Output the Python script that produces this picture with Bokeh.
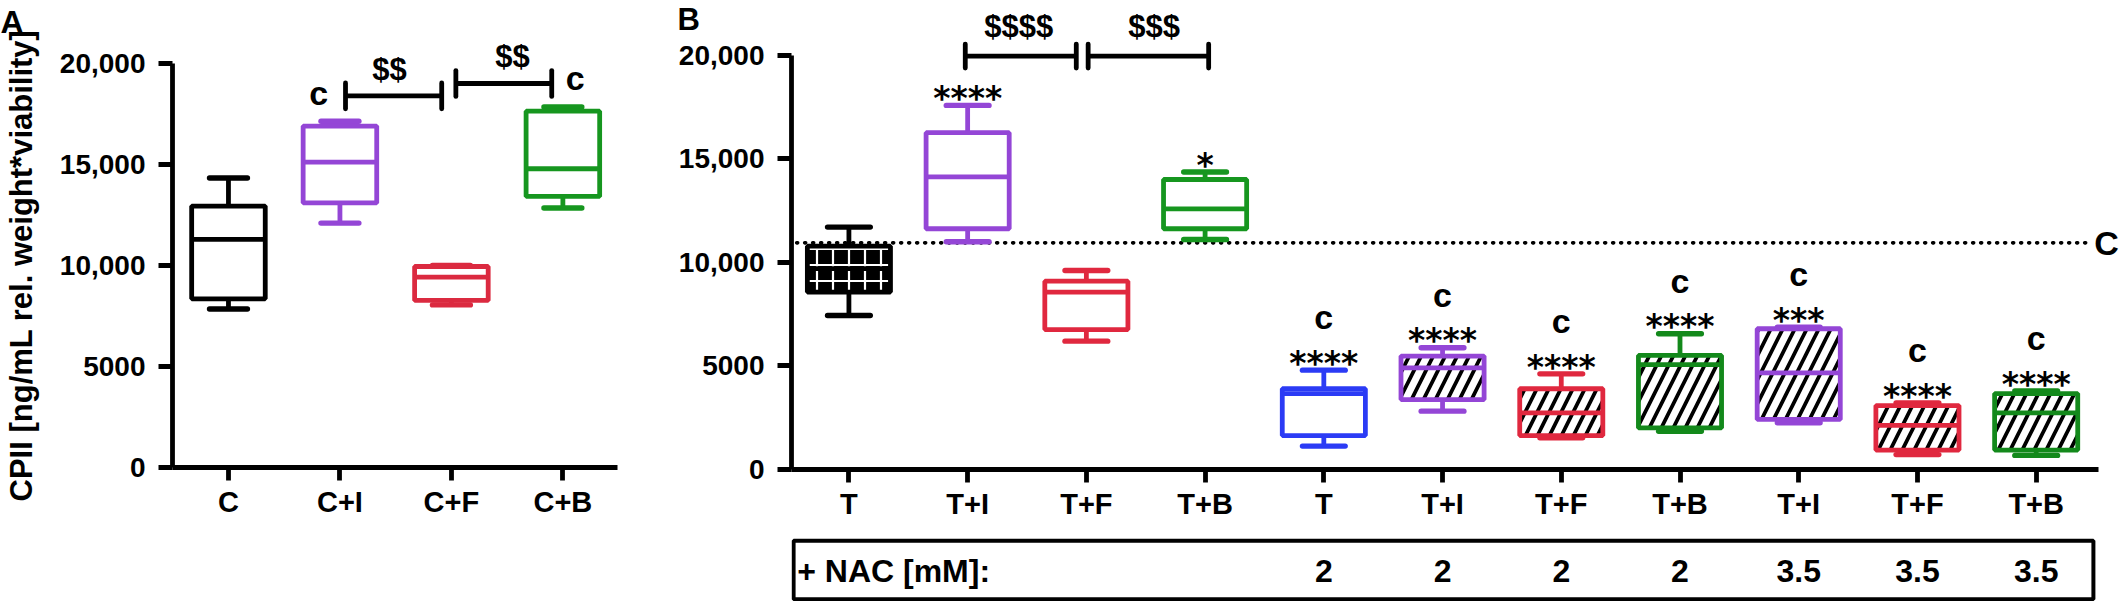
from bokeh.plotting import figure
from bokeh.models import ColumnDataSource, Range1d, FixedTicker, Label
from bokeh.layouts import row, column
from bokeh.core.properties import value
from bokeh.embed import file_html
from bokeh.resources import INLINE

# ---------------- data ----------------
a_groups = ["C", "C+I", "C+F", "C+B"]
a_low = [7850, 12100, 8050, 12850]
a_q1 = [8350, 13100, 8270, 13420]
a_median = [11290, 15120, 9420, 14790]
a_q3 = [12940, 16900, 9950, 17640]
a_high = [14330, 17140, 10000, 17850]
a_colors = ["#000000", "#9446D6", "#DB2A40", "#16961F"]

b_groups = ["T", "T+I", "T+F", "T+B", "T", "T+I", "T+F", "T+B", "T+I", "T+F", "T+B"]
b_low = [7440, 11000, 6200, 11110, 1130, 2820, 1530, 1850, 2260, 720, 680]
b_q1 = [8570, 11630, 6760, 11630, 1640, 3380, 1640, 2010, 2420, 940, 940]
b_median = [9700, 14140, 8570, 12590, 3670, 4910, 2740, 5070, 4670, 2130, 2740]
b_q3 = [10790, 16270, 9100, 14010, 3900, 5480, 3900, 5510, 6800, 3090, 3670]
b_high = [11710, 17590, 9610, 14370, 4800, 5880, 4620, 6560, 6880, 3220, 3790]
b_colors = ["#000000", "#9446D6", "#E0283F", "#16961F", "#2B3BF5", "#9446D6",
            "#E0283F", "#13891B", "#9446D6", "#E0283F", "#13891B"]
b_style = ["brick", "plain", "plain", "plain", "plain", "hatch", "hatch", "hatch",
           "hatch", "hatch", "hatch"]
b_stars = ["", "****", "", "*", "****", "****", "****", "****", "***", "****", "****"]
b_letter = ["", "", "", "", "c", "c", "c", "c", "c", "c", "c"]
nac_mM = ["", "", "", "", "2", "2", "2", "2", "3.5", "3.5", "3.5"]
control_mean = 10950

a_brackets = [(1, 2, "$$"), (2, 3, "$$")]
b_brackets = [(1, 2, "$$$$"), (2, 3, "$$$")]
a_letters = ["", "c", "", "c"]

FONT = value("Liberation Sans")
LW = 4.8


def style_axes(p, labels, yfont="28px", xfont="29px"):
    p.grid.visible = False
    p.outline_line_color = None
    p.background_fill_color = "white"
    for ax in (p.xaxis[0], p.yaxis[0]):
        ax.axis_line_width = LW
        ax.axis_line_color = "black"
        ax.major_tick_line_width = LW
        ax.major_tick_line_color = "black"
        ax.major_tick_in = 0
        ax.minor_tick_out = 0
        ax.minor_tick_in = 0
        ax.major_label_text_font = "Liberation Sans"
        ax.major_label_text_font_style = "bold"
        ax.major_label_text_color = "black"
    ya = p.yaxis[0]
    ya.ticker = FixedTicker(ticks=[0, 5000, 10000, 15000, 20000])
    ya.major_label_overrides = {0: "0", 5000: "5000", 10000: "10,000",
                                15000: "15,000", 20000: "20,000"}
    ya.major_tick_out = 14
    ya.major_label_standoff = 13
    ya.major_label_text_font_size = yfont
    ya.bounds = (0, 20000)
    xa = p.xaxis[0]
    xa.ticker = FixedTicker(ticks=list(range(len(labels))))
    xa.major_label_overrides = {i: s for i, s in enumerate(labels)}
    xa.major_tick_out = 13
    xa.major_label_standoff = 5
    xa.major_label_text_font_size = xfont


def draw_boxes(p, n, low, q1, med, q3, high, colors, styles, bw, cw):
    xs = list(range(n))
    fill, hatch, hcol, hscale, hweight = [], [], [], [], []
    for s in styles:
        if s == "brick":
            fill.append("black"); hatch.append("+"); hcol.append("white")
            hscale.append(16); hweight.append(2.2)
        elif s == "hatch":
            fill.append("white"); hatch.append("/"); hcol.append("black")
            hscale.append(24); hweight.append(3.8)
        else:
            fill.append("white"); hatch.append(" "); hcol.append("black")
            hscale.append(12); hweight.append(1)
    src = ColumnDataSource(dict(
        x=xs, low=low, q1=q1, med=med, q3=q3, high=high, color=colors,
        left=[x - bw / 2 for x in xs], right=[x + bw / 2 for x in xs],
        cl=[x - cw / 2 for x in xs], cr=[x + cw / 2 for x in xs],
        fill=fill, hatch=hatch, hcol=hcol, hscale=hscale, hweight=hweight))
    p.segment(x0="x", y0="low", x1="x", y1="q1", source=src, line_color="color", line_width=LW)
    p.segment(x0="x", y0="q3", x1="x", y1="high", source=src, line_color="color", line_width=LW)
    p.segment(x0="cl", y0="low", x1="cr", y1="low", source=src, line_color="color",
              line_width=LW + 0.6, line_cap="round")
    p.segment(x0="cl", y0="high", x1="cr", y1="high", source=src, line_color="color",
              line_width=LW + 0.6, line_cap="round")
    p.quad(left="left", right="right", bottom="q1", top="q3", source=src,
           fill_color="fill", line_color="color", line_width=LW,
           hatch_pattern="hatch", hatch_color="hcol", hatch_scale="hscale",
           hatch_weight="hweight")
    p.segment(x0="left", y0="med", x1="right", y1="med", source=src,
              line_color="color", line_width=LW)


def bracket_lines(p, x0, x1, y, cap):
    p.segment(x0=[x0], y0=[y], x1=[x1], y1=[y], line_color="black", line_width=LW)
    p.segment(x0=[x0, x1], y0=[y - cap, y - cap], x1=[x0, x1], y1=[y + cap, y + cap],
              line_color="black", line_width=LW, line_cap="round")


def canvas_label(p, text, cx, cy, size, side, align="left", baseline="alphabetic"):
    lab = Label(x=cx, y=cy, x_units="canvas", y_units="canvas", text=text,
                text_font="Liberation Sans", text_font_style="bold",
                text_font_size=size, text_align=align, text_baseline=baseline,
                text_color="black")
    p.add_layout(lab, side)


# ---------------- panel A ----------------
pA = figure(width=632, height=601, x_range=Range1d(-0.502, 3.49),
            y_range=Range1d(0, 20000), output_backend="svg", toolbar_location=None,
            min_border_left=166, min_border_right=15, min_border_top=63,
            min_border_bottom=134)
style_axes(pA, a_groups)
ya = pA.yaxis[0]
ya.axis_label = "CPII [ng/mL rel. weight*viability]"
ya.axis_label_text_font = "Liberation Sans"
ya.axis_label_text_font_style = "bold"
ya.axis_label_text_font_size = "31px"
ya.axis_label_text_color = "black"
ya.axis_label_standoff = 18

draw_boxes(pA, 4, a_low, a_q1, a_median, a_q3, a_high, a_colors,
           ["plain"] * 4, 0.66, 0.34)
bracket_lines(pA, 1.05, 1.913, 18400, 640)
bracket_lines(pA, 2.04, 2.90, 19010, 640)
pA.text(x=[0.81, 3.11], y=[18560, 19260], text=[a_letters[1], a_letters[3]],
        text_font=FONT, text_font_style="bold", text_font_size=value("34px"),
        text_align="center", text_baseline="middle", text_color="black")
# labels above the 20,000 level (drawn in the side panels, canvas pixels)
canvas_label(pA, a_brackets[0][2], 389, 69, "31px", "below", "center", "middle")
canvas_label(pA, a_brackets[1][2], 512, 56, "31px", "above", "center", "middle")
canvas_label(pA, "A", 0, 21, "32px", "below")

# ---------------- panel B ----------------
xr_b = Range1d(-0.4836, 10.7102)
pB = figure(width=1488, height=532, x_range=xr_b,
            y_range=Range1d(0, 22560), output_backend="svg", toolbar_location=None,
            min_border_left=159, min_border_right=0, min_border_top=2,
            min_border_bottom=63)
style_axes(pB, b_groups)
pB.xaxis[0].bounds = (-0.4836, 10.525)

pB.segment(x0=[-0.44], y0=[control_mean], x1=[10.45], y1=[control_mean],
           line_color="black", line_width=3.6, line_dash="1 7", line_cap="round")
pB.text(x=[10.49], y=[control_mean], text=["C"], text_font=FONT, text_font_style="bold",
        text_font_size=value("34px"), text_align="left", text_baseline="middle",
        text_color="black")
draw_boxes(pB, 11, b_low, b_q1, b_median, b_q3, b_high, b_colors, b_style, 0.70, 0.36)

bracket_lines(pB, 0.98, 1.915, 19970, 580)
bracket_lines(pB, 2.015, 3.03, 19970, 580)
pB.text(x=[1.43, 2.57], y=[21420, 21420], text=[b_brackets[0][2], b_brackets[1][2]],
        text_font=FONT, text_font_style="bold", text_font_size=value("31px"),
        text_align="center", text_baseline="middle", text_color="black")

sx, sy, st, cx, cy, ct = [], [], [], [], [], []
for i in range(11):
    if b_stars[i]:
        sx.append(i); sy.append(b_high[i] + 330); st.append(b_stars[i])
    if b_letter[i]:
        cx.append(i); cy.append(b_high[i] + 2550); ct.append(b_letter[i])
pB.text(x=sx, y=sy, text=st, text_font=value("DejaVu Sans"), text_font_style="bold",
        text_font_size=value("33px"), text_align="center", text_baseline="alphabetic",
        text_color="black")
pB.text(x=cx, y=cy, text=ct, text_font=FONT, text_font_style="bold",
        text_font_size=value("34px"), text_align="center", text_baseline="middle",
        text_color="black")
canvas_label(pB, "B", 45, 19, "31px", "left")

# ---------------- NAC row ----------------
pN = figure(width=1488, height=69, x_range=xr_b,
            y_range=Range1d(0, 69), output_backend="svg", toolbar_location=None,
            x_axis_location=None, y_axis_location=None, min_border=0,
            min_border_left=159, min_border_right=0)
pN.grid.visible = False
pN.outline_line_color = None
pN.quad(left=[-0.466], right=[10.482], bottom=[2.3], top=[60.7], fill_color=None,
        line_color="black", line_width=4)
pN.text(x=[-0.4356], y=[30.7], text=["+ NAC [mM]:"], text_font=FONT,
        text_font_style="bold", text_font_size=value("32px"), text_align="left",
        text_baseline="middle", text_color="black")
nx = [i for i in range(11) if nac_mM[i]]
pN.text(x=nx, y=[30.7] * len(nx), text=[nac_mM[i] for i in nx], text_font=FONT,
        text_font_style="bold", text_font_size=value("32px"), text_align="center",
        text_baseline="middle", text_color="black")

layout = row(pA, column(pB, pN, spacing=0), spacing=0)
open("out.html", "w").write(file_html(layout, INLINE))
